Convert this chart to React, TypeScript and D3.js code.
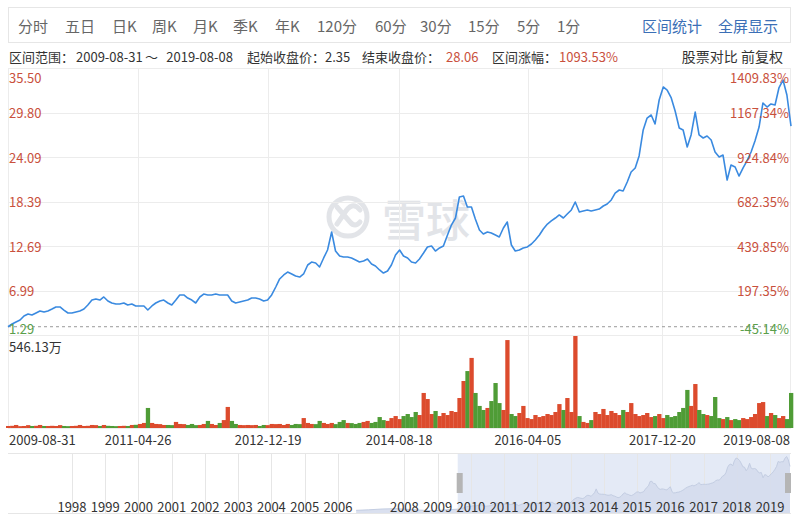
import React, { useEffect } from "react";
import * as d3 from "d3";

// ---------- data ----------
const START_DATE = "2009-08-31";
const END_DATE = "2019-08-08";
const START_PRICE = 2.35;
const PRICE_MIN = 1.29;
const PRICE_MAX = 35.5;
const VOLUME_MAX = 546.13; // 万

// sampled closing prices (前复权), evenly spaced between START_DATE and END_DATE
const closePrices = [
  2.35, 2.70, 2.96, 3.21, 3.72, 3.98, 3.85, 4.11, 4.37, 4.24,
  4.37, 4.62, 4.88, 4.88, 4.49, 4.11, 4.11, 4.24, 4.37, 4.62,
  5.13, 5.77, 5.90, 5.77, 6.16, 5.65, 5.39, 5.26, 5.26, 5.39,
  5.13, 5.26, 5.01, 5.01, 5.01, 4.49, 5.01, 5.39, 5.65, 5.77,
  5.39, 5.13, 5.77, 6.42, 6.42, 6.03, 5.77, 5.39, 6.16, 6.54,
  6.42, 6.42, 6.54, 6.42, 6.42, 6.42, 5.65, 5.39, 5.52, 5.65,
  5.77, 6.03, 6.03, 5.90, 5.65, 5.77, 6.42, 7.44, 8.47, 8.98,
  9.36, 9.11, 8.85, 8.72, 9.11, 10.26, 10.64, 10.52, 10.00, 11.16,
  12.18, 14.49, 12.05, 11.41, 11.28, 11.28, 11.16, 10.90, 10.64, 10.77,
  11.03, 10.39, 10.13, 9.62, 9.23, 9.49, 10.26, 11.54, 12.18, 11.41,
  11.16, 10.64, 10.52, 11.03, 11.80, 12.57, 12.69, 12.05, 12.44, 12.69,
  14.10, 15.38, 16.28, 18.97, 19.10, 17.69, 17.69, 16.15, 14.74, 14.23,
  14.49, 14.36, 14.10, 13.85, 15.00, 15.77, 12.82, 12.05, 12.18, 12.44,
  12.57, 12.95, 13.46, 14.10, 14.87, 15.51, 15.90, 16.28, 16.67, 16.28,
  16.79, 17.31, 18.33, 17.05, 17.18, 17.31, 17.18, 17.31, 17.43, 17.82,
  18.08, 18.59, 19.48, 19.87, 19.74, 20.89, 22.18, 22.69, 24.23, 27.56,
  29.09, 29.48, 28.33, 31.40, 33.07, 32.68, 31.66, 29.99, 27.81, 27.56,
  25.38, 26.92, 29.86, 26.92, 26.53, 26.79, 26.28, 24.74, 24.10, 24.35,
  21.15, 23.07, 22.82, 21.66, 22.69, 23.59, 24.74, 26.15, 27.94, 31.02,
  30.50, 30.89, 30.76, 32.94, 33.96, 32.04, 28.06,
];

// volumes in 万 (same sampling as closePrices)
const volumes = [
  12, 13, 18, 11, 12, 17, 12, 13, 18, 12,
  12, 13, 12, 17, 12, 11, 12, 13, 18, 12,
  13, 18, 17, 12, 18, 13, 12, 11, 12, 13,
  12, 18, 19, 24, 30, 119, 30, 24, 23, 18,
  18, 17, 36, 24, 23, 18, 24, 17, 18, 24,
  42, 24, 18, 30, 47, 125, 42, 24, 18, 17,
  18, 17, 18, 12, 18, 17, 24, 23, 24, 18,
  24, 18, 24, 23, 59, 30, 24, 23, 42, 30,
  24, 30, 23, 36, 47, 30, 29, 24, 30, 36,
  42, 30, 36, 65, 47, 42, 59, 71, 53, 71,
  83, 65, 95, 77, 208, 172, 83, 101, 71, 89,
  77, 101, 95, 178, 279, 338, 416, 208, 131, 107,
  119, 160, 267, 148, 107, 522, 83, 71, 89, 131,
  59, 53, 77, 65, 71, 83, 77, 95, 142, 107,
  178, 95, 546.13, 71, 36, 30, 47, 95, 83, 113,
  77, 101, 89, 77, 107, 95, 148, 83, 71, 77,
  89, 65, 71, 83, 59, 77, 65, 71, 95, 119,
  226, 131, 261, 107, 83, 77, 71, 184, 59, 53,
  65, 47, 53, 47, 59, 53, 65, 83, 148, 154,
  71, 89, 77, 59, 71, 53, 208,
];

const priceTickLabels = ["35.50", "29.80", "24.09", "18.39", "12.69", "6.99", "1.29"];
const pctTickLabels = ["1409.83%", "1167.34%", "924.84%", "682.35%", "439.85%", "197.35%", "-45.14%"];
const dateTicks = ["2009-08-31", "2011-04-26", "2012-12-19", "2014-08-18", "2016-04-05", "2017-12-20", "2019-08-08"];

// navigator: earlier history before the selected range
const navHistoryDates = ["2006-07-20", "2006-12-01", "2007-05-01", "2007-10-01", "2008-03-01", "2008-08-01", "2008-12-01", "2009-04-01", "2009-08-28"];
const navHistoryPrices = [1.6, 1.9, 2.4, 2.6, 2.1, 1.6, 1.4, 1.9, 2.35];
const navYears = [1998, 1999, 2000, 2001, 2002, 2003, 2004, 2005, 2006, 2008, 2009, 2010, 2011, 2012, 2013, 2014, 2015, 2016, 2017, 2018, 2019];
const navDomain = ["1996-01-29", "2019-08-08"];

const toolbarItems = ["分时", "五日", "日K", "周K", "月K", "季K", "年K", "120分", "60分", "30分", "15分", "5分", "1分"];
const toolbarLinks = ["区间统计", "全屏显示"];

// ---------- layout ----------
const W = 800;
const H = 520;
const L = 8;
const R = 791;
const PRICE_TOP = 68;
const PRICE_BOT = 335;
const VOL_TOP = 336;
const VOL_BOT = 428;
const NAV_TOP = 453;
const NAV_BOT = 513;
const TOOLBAR_X = [18, 65, 112, 152, 193, 233, 275, 317, 375, 420, 468, 517, 557];
const LINK_X = [642, 718];
const FONT = "'Noto Sans CJK SC', 'Noto Sans', sans-serif";
const RED = "#c9503c";
const GREEN = "#5a9e4a";
const UP = "#dc4b2d";
const DOWN = "#4f9c36";
const LINE = "#3a8ae0";
const GRID = "#ececec";
const WM = "#e2e4e8";

const parse = d3.timeParse("%Y-%m-%d");

export default function App() {
  useEffect(() => {
    document.body.style.margin = "0";
    document.body.style.background = "#fff";
  }, []);

  const start = parse(START_DATE)!;
  const end = parse(END_DATE)!;
  const n = closePrices.length;
  const span = d3.timeDay.count(start, end);
  const dates = closePrices.map((_, i) =>
    i === n - 1 ? end : d3.timeDay.offset(start, Math.round((i * span) / (n - 1)))
  );

  const x = d3.scaleTime().domain([start, end]).range([L, R]);
  const y = d3.scaleLinear().domain([PRICE_MIN, PRICE_MAX]).range([PRICE_BOT, PRICE_TOP]);
  const yv = d3.scaleLinear().domain([0, VOLUME_MAX]).range([VOL_BOT, VOL_TOP]);

  const priceStep = (PRICE_MAX - PRICE_MIN) / (priceTickLabels.length - 1);
  const priceTickValues = priceTickLabels.map((_, i) => PRICE_MAX - i * priceStep);

  const line = d3
    .line<number>()
    .x((_, i) => x(dates[i]))
    .y((d) => y(d))
    .curve(d3.curveLinear);

  const barW = (R - L) / (n - 1);

  // navigator
  const nx = d3.scaleTime().domain(navDomain.map((d) => parse(d)!)).range([L, 790]);
  const ny = d3.scaleLinear().domain([0, 35.5]).range([NAV_BOT, NAV_TOP + 1]);
  const navData = [
    ...navHistoryDates.map((d, i) => ({ d: parse(d)!, v: navHistoryPrices[i] })),
    ...closePrices.map((v, i) => ({ d: dates[i], v })),
  ];
  const navArea = d3
    .area<{ d: Date; v: number }>()
    .x((p) => nx(p.d))
    .y0(NAV_BOT)
    .y1((p) => ny(p.v));
  const navLine = d3
    .line<{ d: Date; v: number }>()
    .x((p) => nx(p.d))
    .y((p) => ny(p.v));
  const selX0 = nx(start) - 2;
  const selX1 = nx(end);

  const dateTickDates = dateTicks.map((d) => parse(d)!);

  return (
    <div style={{ position: "absolute", left: 0, top: 0 }}>
      <svg width={W} height={H} style={{ display: "block", background: "#fff" }} fontFamily={FONT}>
        {/* toolbar */}
        <rect x={8.5} y={7.5} width={782} height={35} fill="#fff" stroke="#e6e6e6" />
        {toolbarItems.map((t, i) => (
          <text key={t} x={TOOLBAR_X[i]} y={25} dominantBaseline="central" fontSize={15} fill="#666">
            {t}
          </text>
        ))}
        {toolbarLinks.map((t, i) => (
          <text key={t} x={LINK_X[i]} y={25} dominantBaseline="central" fontSize={15} fill="#3b6fb6">
            {t}
          </text>
        ))}

        {/* info line */}
        <g fontSize={13} dominantBaseline="central">
          <text x={9} y={56} fill="#333">区间范围：</text>
          <text x={76} y={56} fill="#333">{START_DATE}</text>
          <text x={145} y={56} fill="#333">～</text>
          <text x={233} y={56} fill="#333" textAnchor="end">{END_DATE}</text>
          <text x={247} y={56} fill="#333">起始收盘价：</text>
          <text x={325} y={56} fill="#333">{START_PRICE.toFixed(2)}</text>
          <text x={362} y={56} fill="#333">结束收盘价：</text>
          <text x={446} y={56} fill={RED}>{closePrices[n - 1].toFixed(2)}</text>
          <text x={492} y={56} fill="#333">区间涨幅：</text>
          <text x={559} y={56} fill={RED}>1093.53%</text>
          <text x={783} y={56} fill="#333" fontSize={14} textAnchor="end">股票对比 前复权</text>
        </g>

        {/* watermark */}
        <g>
          <circle cx={348} cy={217} r={19} fill="none" stroke={WM} strokeWidth={5} />
          <path d="M337,207 L350,222 Q355,228 360,222 M360,210 Q352,200 344,214 L337,224" fill="none" stroke={WM} strokeWidth={5} strokeLinecap="round" />
          <text x={382} y={218} dominantBaseline="central" fontSize={44} fill={WM} fontWeight={500}>雪球</text>
        </g>

        {/* grid */}
        <rect x={L + 0.5} y={PRICE_TOP + 0.5} width={R - L - 1} height={VOL_BOT - PRICE_TOP} fill="none" stroke={GRID} />
        {priceTickValues.slice(1, -1).map((v, i) => (
          <line key={i} x1={L} x2={R} y1={Math.round(y(v)) + 0.5} y2={Math.round(y(v)) + 0.5} stroke={GRID} />
        ))}
        <line x1={L} x2={R} y1={PRICE_BOT + 0.5} y2={PRICE_BOT + 0.5} stroke={GRID} />
        {dateTickDates.slice(1, -1).map((d, i) => (
          <line key={i} x1={Math.round(x(d)) + 0.5} x2={Math.round(x(d)) + 0.5} y1={PRICE_TOP} y2={VOL_BOT} stroke={GRID} />
        ))}

        {/* start price reference */}
        <line x1={L} x2={R - 14} y1={y(START_PRICE)} y2={y(START_PRICE)} stroke="#999" strokeDasharray="3,3" />

        {/* volume */}
        {volumes.map((v, i) => {
          const up = i === 0 ? true : closePrices[i] >= closePrices[i - 1];
          return (
            <rect
              key={i}
              x={x(dates[i]) - barW / 2}
              y={yv(v)}
              width={barW + 0.3}
              height={VOL_BOT - yv(v)}
              fill={up ? UP : DOWN}
            />
          );
        })}

        {/* price line */}
        <path d={line(closePrices) || ""} fill="none" stroke={LINE} strokeWidth={1.6} strokeLinejoin="round" />

        {/* left labels */}
        {priceTickLabels.map((t, i) => {
          const yy = i === 0 ? PRICE_TOP + 9 : i === priceTickLabels.length - 1 ? PRICE_BOT - 7 : y(priceTickValues[i]);
          const last = i === priceTickLabels.length - 1;
          return (
            <text key={t} x={9} y={yy} dominantBaseline="central" fontSize={13} fill={last ? GREEN : RED}>
              {t}
            </text>
          );
        })}
        {pctTickLabels.map((t, i) => {
          const yy = i === 0 ? PRICE_TOP + 9 : i === pctTickLabels.length - 1 ? PRICE_BOT - 7 : y(priceTickValues[i]);
          const last = i === pctTickLabels.length - 1;
          return (
            <text key={t} x={789} y={yy} dominantBaseline="central" fontSize={13} textAnchor="end" fill={last ? GREEN : RED}>
              {t}
            </text>
          );
        })}

        <text x={9} y={346} dominantBaseline="central" fontSize={13} fill="#333">
          {VOLUME_MAX.toFixed(2)}万
        </text>

        {/* x axis labels */}
        {dateTicks.map((t, i) => (
          <text
            key={t}
            x={i === 0 ? L + 1 : i === dateTicks.length - 1 ? 790 : x(dateTickDates[i])}
            y={439}
            dominantBaseline="central"
            fontSize={13}
            fill="#333"
            textAnchor={i === 0 ? "start" : i === dateTicks.length - 1 ? "end" : "middle"}
          >
            {t}
          </text>
        ))}

        {/* navigator */}
        <rect x={selX0} y={NAV_TOP} width={selX1 - selX0} height={NAV_BOT - NAV_TOP} fill="#e4eaf6" />
        {navYears.map((yr) => {
          const xx = Math.round(nx(new Date(yr, 0, 1))) + 0.5;
          return <line key={yr} x1={xx} x2={xx} y1={NAV_TOP} y2={NAV_BOT} stroke="#e6e6e6" />;
        })}
        <path d={navArea(navData) || ""} fill="#d3dbec" fillOpacity={0.85} />
        <path d={navLine(navData) || ""} fill="none" stroke="#c3cde2" strokeWidth={1} />
        <line x1={L} x2={R} y1={NAV_TOP + 0.5} y2={NAV_TOP + 0.5} stroke="#e6e6e6" />
        <line x1={L} x2={R} y1={NAV_BOT + 0.5} y2={NAV_BOT + 0.5} stroke="#e6e6e6" />
        {navYears.map((yr) => (
          <text key={yr} x={nx(new Date(yr, 0, 1))} y={506} dominantBaseline="central" textAnchor="middle" fontSize={13} fill="#333">
            {yr}
          </text>
        ))}
        <rect x={selX0 - 1} y={473} width={6} height={20} fill="#b5b5b5" />
        <rect x={selX1 - 5} y={473} width={6} height={20} fill="#b5b5b5" />
      </svg>
    </div>
  );
}
